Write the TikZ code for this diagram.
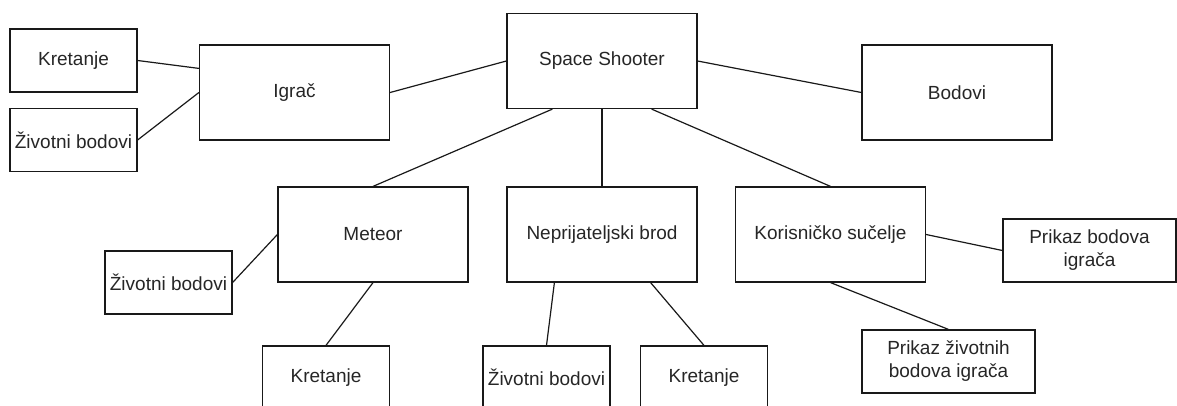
\documentclass[tikz,border=0pt]{standalone}
\usepackage{fontspec}
\setmainfont{Liberation Sans}
\begin{document}
\begin{tikzpicture}[x=1pt,y=-1pt,
  box/.style={draw=black!90, line width=1.2pt, align=center, inner sep=0pt,
    text=black!85, font=\fontsize{19}{23}\selectfont},
  big/.style={box, minimum width=190pt, minimum height=95pt},
  small/.style={box, minimum width=127pt, minimum height=63pt},
  wide/.style={box, minimum width=173pt, minimum height=63pt},
  link/.style={draw=black!90, line width=1.2pt}]
\useasboundingbox (0,0) rectangle (1177,406);
\clip (0,0) rectangle (1177,406);
\node[small] (k1) at (73.5,60.5) {Kretanje};
\node[small] (z1) at (73.5,140) {Životni bodovi};
\node[big] (igrac) at (294.5,92.5) {Igrač};
\node[big] (ss) at (602,61) {Space Shooter};
\node[big] (bodovi) at (957,92.5) {Bodovi};
\node[big] (meteor) at (373,234.5) {Meteor};
\node[big] (nep) at (602,234.5) {Neprijateljski brod};
\node[big] (kor) at (830.5,234.5) {Korisničko sučelje};
\node[small] (z2) at (168.5,282.5) {Životni bodovi};
\node[small] (k2) at (326,377.5) {Kretanje};
\node[small] (z3) at (546.5,377.5) {Životni bodovi};
\node[small] (k3) at (704,377.5) {Kretanje};
\node[wide] (pb) at (1089.5,250.5) {Prikaz bodova\\igrača};
\node[wide] (pz) at (948.5,361.5) {Prikaz životnih\\bodova igrača};
\draw[link] (k1.east) -- ([yshift=-24pt]igrac.north west);
\draw[link] (z1.east) -- (igrac.west);
\draw[link] (igrac.east) -- (ss.west);
\draw[link] (ss.east) -- (bodovi.west);
\draw[link] ([xshift=46pt]ss.south west) -- (meteor.north);
\draw[link] (ss.south) -- (nep.north);
\draw[link] ([xshift=-46pt]ss.south east) -- (kor.north);
\draw[link] (meteor.west) -- (z2.east);
\draw[link] (meteor.south) -- (k2.north);
\draw[link] ([xshift=48pt]nep.south west) -- (z3.north);
\draw[link] ([xshift=-47pt]nep.south east) -- (k3.north);
\draw[link] (kor.east) -- (pb.west);
\draw[link] (kor.south) -- (pz.north);
\end{tikzpicture}
\end{document}
